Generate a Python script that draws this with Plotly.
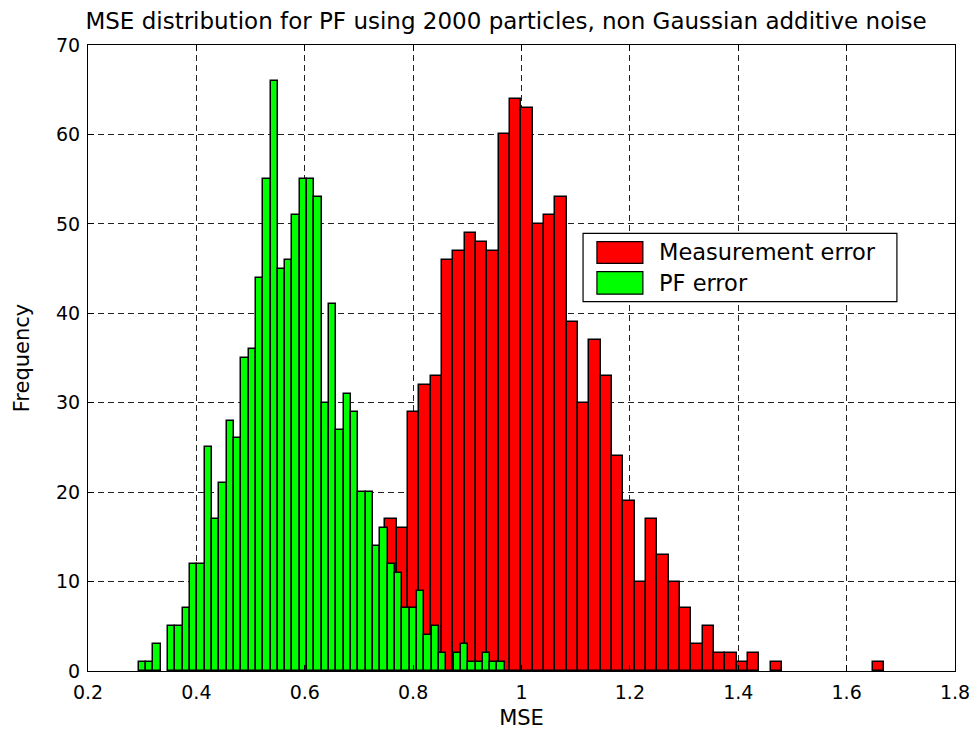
import numpy as np
import plotly.graph_objects as go

# counts per bin (50 bins each)
pf_counts = [1, 1, 3, 0, 5, 5, 7, 12, 12, 25,
             17, 21, 28, 26, 35, 36, 44, 55, 66, 45,
             46, 51, 55, 55, 53, 30, 41, 27, 31, 29,
             20, 20, 14, 16, 12, 11, 7, 7, 9, 4,
             5, 2, 0, 2, 3, 1, 1, 2, 1, 1]
pf_min, pf_max = 0.2936, 0.9692

# first six bins sit behind the green bars (estimated)
meas_counts = [1, 3, 5, 8, 10, 12, 17, 16, 29, 32,
               33, 46, 47, 49, 48, 47, 60, 64, 63, 50,
               51, 53, 39, 30, 37, 33, 24, 19, 10, 17,
               13, 10, 7, 3, 5, 2, 2, 1, 2, 0,
               1, 0, 0, 0, 0, 0, 0, 0, 0, 1]
meas_min, meas_max = 0.6233, 1.6691

title = "MSE distribution for PF using 2000 particles, non Gaussian additive noise"


def centers(lo, hi, n):
    edges = np.linspace(lo, hi, n + 1)
    return (edges[:-1] + edges[1:]) / 2, (hi - lo) / n


def nonzero(counts):
    # empty bins get no bar (otherwise the outline shows on the axis)
    return [c if c > 0 else None for c in counts]


mx, mw = centers(meas_min, meas_max, len(meas_counts))
px, pw = centers(pf_min, pf_max, len(pf_counts))

fnt = "DejaVu Sans"
edge = dict(color="black", width=1.5)

fig = go.Figure()
fig.add_trace(go.Bar(x=mx, y=nonzero(meas_counts), width=mw, name="Measurement error",
                     marker=dict(color="#ff0000", line=edge), showlegend=False))
fig.add_trace(go.Bar(x=px, y=nonzero(pf_counts), width=pw, name="PF error",
                     marker=dict(color="#00ff00", line=edge), showlegend=False))

# legend drawn by hand, MATLAB style (big patches)
fig.add_shape(type="rect", xref="paper", yref="paper", x0=0.571, x1=0.933, y0=0.590, y1=0.699,
              line=dict(color="black", width=1.2), fillcolor="white", layer="above")
fig.add_shape(type="rect", xref="paper", yref="paper", x0=0.587, x1=0.640, y0=0.651, y1=0.686,
              line=dict(color="black", width=1.2), fillcolor="#ff0000", layer="above")
fig.add_shape(type="rect", xref="paper", yref="paper", x0=0.587, x1=0.640, y0=0.602, y1=0.638,
              line=dict(color="black", width=1.2), fillcolor="#00ff00", layer="above")
fig.add_annotation(xref="paper", yref="paper", x=0.656, y=0.669, text="Measurement error",
                   showarrow=False, xanchor="left", yanchor="middle",
                   font=dict(family=fnt, size=22.5, color="black"))
fig.add_annotation(xref="paper", yref="paper", x=0.656, y=0.620, text="PF error",
                   showarrow=False, xanchor="left", yanchor="middle",
                   font=dict(family=fnt, size=22.5, color="black"))

axis_common = dict(showline=True, linecolor="black", linewidth=1.2, mirror="ticks",
                   ticks="inside", ticklen=6, tickcolor="black", automargin=False,
                   showgrid=True, gridcolor="#222", gridwidth=1, griddash="6px,4px",
                   zeroline=False, tickfont=dict(family=fnt, size=19, color="black"))

fig.update_xaxes(range=[0.2, 1.8], dtick=0.2, tick0=0.2, ticklabelstandoff=4,
                 title=dict(text="MSE", font=dict(family=fnt, size=21, color="black"), standoff=8),
                 **axis_common)
fig.update_yaxes(range=[0, 70], dtick=10, ticklabelstandoff=3,
                 title=dict(text="Frequency", font=dict(family=fnt, size=21, color="black"), standoff=20),
                 **axis_common)

# page body has an 8px margin, so the figure is a bit smaller and offset
fig.update_layout(
    template="none",
    width=969, height=730,
    margin=dict(l=80, r=22, t=37, b=67),
    barmode="overlay", bargap=0,
    paper_bgcolor="white", plot_bgcolor="white",
    title=dict(text=title, x=0.514, xref="container", xanchor="center",
               y=0.982, yref="container", yanchor="middle",
               font=dict(family=fnt, size=23, color="black")),
)

fig.write_html("out.html")
